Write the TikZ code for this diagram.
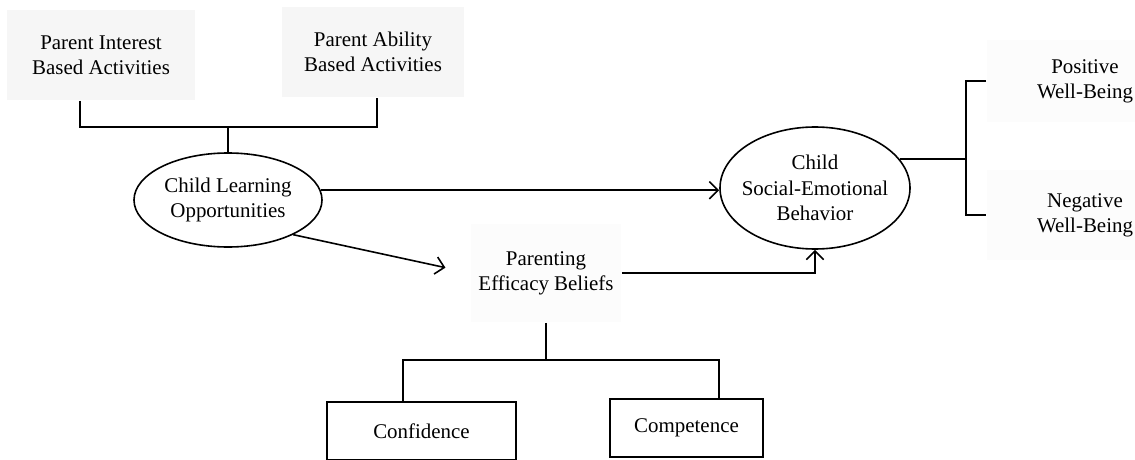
\documentclass[tikz,border=0pt]{standalone}
\usepackage{fontspec}
\setmainfont{Liberation Serif}
\usetikzlibrary{shapes.geometric,arrows.meta}

\tikzset{
  arr/.style={-{Straight Barb[length=6.5pt,width=13pt]}},
  patch/.style={fill=gray!7, inner sep=0pt, align=center},
  faint/.style={fill=gray!2.5, inner sep=0pt, align=center},
  oval/.style={draw, ellipse, inner sep=0pt, align=center},
  box/.style={draw, rectangle, inner sep=0pt, align=center},
}

\begin{document}
\begin{tikzpicture}[x=0.75pt,y=0.75pt,yscale=-1,xscale=1, line width=1.2pt, font=\fontsize{15.7}{19}\selectfont]
\useasboundingbox (0,0) rectangle (1135,460);

% activity blocks
\node [patch, minimum width=141pt, minimum height=67.5pt] (pia) at (101,55) {Parent Interest\\Based Activities};
\node [patch, minimum width=136.5pt, minimum height=67.5pt] (paa) at (373,52) {Parent Ability\\Based Activities};

% latent variables
\node [oval, minimum width=141pt, minimum height=70.5pt] (clo) at (228,200) {Child Learning\\Opportunities};
\node [oval, minimum width=142.5pt, minimum height=91.5pt, inner xsep=-5pt] (cseb) at (815,188) {Child\\Social-Emotional\\Behavior};
\node [faint, minimum width=112.5pt, minimum height=73.5pt] (peb) at (546,273) {Parenting\\Efficacy Beliefs};

% outcomes
\node [faint, minimum width=147pt, minimum height=62pt] (pos) at (1085,81) {Positive\\Well-Being};
\node [faint, minimum width=147pt, minimum height=67.5pt] (neg) at (1085,215) {Negative\\Well-Being};

% efficacy components
\node [box, minimum width=141.75pt, minimum height=43.5pt] (conf) at (421.5,431) {Confidence};
\node [box, minimum width=114.75pt, minimum height=43.5pt] (comp) at (686.5,428) {Competence};

% top bracket
\coordinate (tl) at (80,127);
\coordinate (tr) at (377,127);
\draw (tl |- pia.south) -- (tl) -- (tr) -- (tr |- paa.south);
\draw (clo.north) -- (clo.north |- tl);

% paths
\draw [arr] (clo.6) -- (clo.6 -| cseb.west);
\draw [arr, shorten >=19pt] (clo.-28) -- (peb.west);
\draw [arr] (peb.east) -| (cseb.south);

% right bracket
\coordinate (rb) at (966,159);
\draw (cseb.19) -- (cseb.19 -| rb);
\draw (pos.west) -- (pos.west -| rb) -- (neg.west -| rb) -- (neg.west);

% bottom bracket
\coordinate (bl) at (403,360);
\coordinate (br) at (719,360);
\draw (peb.south) -- (peb.south |- bl);
\draw (bl |- conf.north) -- (bl) -- (br) -- (br |- comp.north);

\end{tikzpicture}
\end{document}
